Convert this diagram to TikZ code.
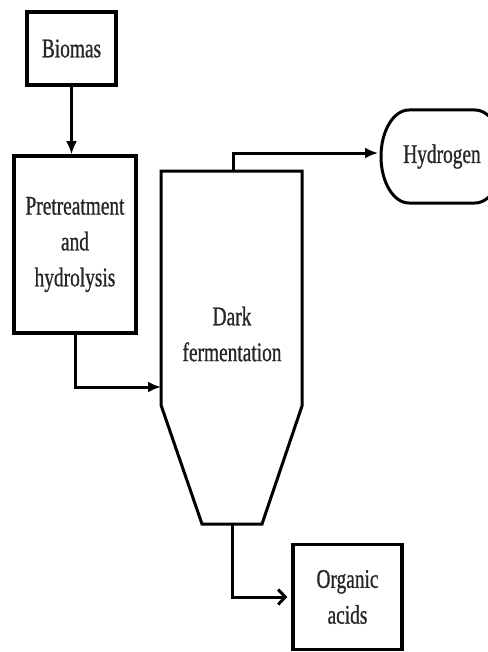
\documentclass[tikz,border=0pt]{standalone}
\usepackage{fontspec}
\setmainfont{Liberation Serif}[FakeStretch=0.72,FakeBold=0.8]
\usetikzlibrary{arrows.meta}
\begin{document}
\begin{tikzpicture}[x=1bp,y=-1bp,
  box/.style={draw, line width=3.5bp, rectangle, align=center, inner sep=0pt},
  lbl/.style={align=center, inner sep=0pt},
  pipe/.style={line width=3bp},
  flow/.style={pipe, -{Latex[length=13bp,width=11bp]}},
  flowbarb/.style={pipe, -{Straight Barb[length=7bp,width=15bp,line width=3bp]}},
  every node/.style={font=\fontsize{27}{36}\selectfont, text=black!85}]
\useasboundingbox (0,0) rectangle (488,652);
\clip (0,0) rectangle (488,652);
\node[box, minimum width=89bp, minimum height=73bp] (biomas) at (71.5,48.5) {Biomas};
\node[box, minimum width=122bp, minimum height=177bp] (pre) at (75,244.5) {Pretreatment\\and\\hydrolysis};
\draw[line width=3bp, line join=miter] (161,171) -- (302,171) -- (302,406) -- (262,524) -- (202,524) -- (161,405) -- cycle;
\node[lbl] (df) at (232,334) {Dark\\fermentation};
\coordinate (rtop) at (233,171);
\coordinate (rleft) at (161,387);
\coordinate (rbot) at (232,524);
\draw[line width=3bp] (409,110) -- (475,110) arc[start angle=90, end angle=-90, x radius=28bp, y radius=46.5bp] -- (409,203) arc[start angle=270, end angle=90, x radius=28bp, y radius=46.5bp] -- cycle;
\node[lbl] (hyd) at (442,156.5) {Hydrogen};
\coordinate (hydw) at (381,153);
\node[box, minimum width=109bp, minimum height=105bp] (org) at (347.5,597) {Organic\\acids};
\draw[flow] (biomas.south) -- (biomas.south |- pre.north);
\draw[flow] (pre.south) |- (rleft);
\draw[flow, shorten >=3bp] (rtop) |- (hydw);
\draw[flowbarb, shorten >=4bp] (rbot) |- (org.west);
\end{tikzpicture}
\end{document}
